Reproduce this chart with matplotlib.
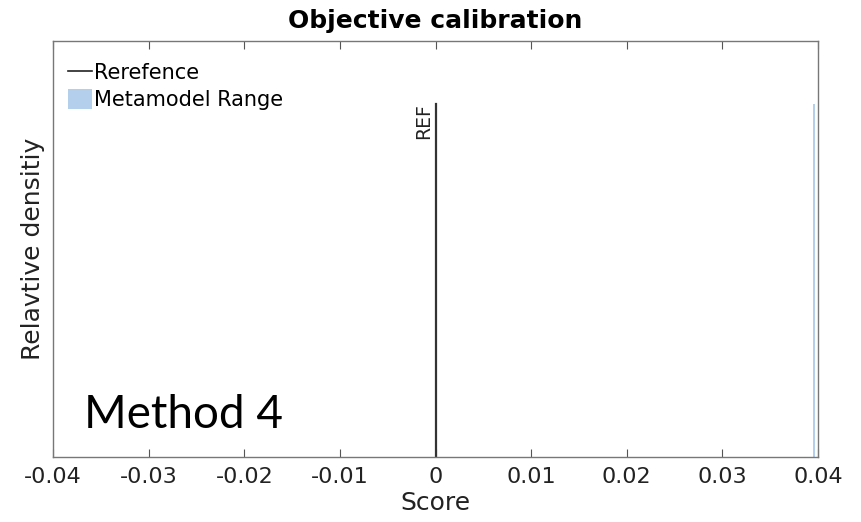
import matplotlib.pyplot as plt
from matplotlib.patches import Patch
from matplotlib.lines import Line2D

# values
ref_score = 0.0
meta_range = [0.03945, 0.03965]
density_top = 1.0
xticks = [-0.04, -0.03, -0.02, -0.01, 0, 0.01, 0.02, 0.03, 0.04]
xtick_labels = ['-0.04', '-0.03', '-0.02', '-0.01', '0', '0.01', '0.02', '0.03', '0.04']

fig = plt.figure(figsize=(8.62, 5.22), dpi=100)
ax = fig.add_axes([0.0615, 0.1245, 0.8875, 0.797])

blue = '#b4cfec'
ax.fill_between(meta_range, 0, density_top, color=blue, lw=0)
ax.plot([ref_score, ref_score], [0, density_top], color='#333333', lw=1.6)
ax.text(ref_score - 0.0003, density_top, 'REF', rotation=90, ha='right', va='top',
        fontsize=13.5, color='#222222')

ax.set_xlim(-0.04, 0.04)
ax.set_ylim(0, 1.177)
ax.set_xticks(xticks)
ax.set_xticklabels(xtick_labels, fontsize=16, color='#222222')
ax.set_yticks([])
ax.tick_params(axis='x', direction='in', length=6, top=True, color='#555555', pad=7)
for s in ax.spines.values():
    s.set_color('#777777')
    s.set_linewidth(1)

ax.set_xlabel('Score', fontsize=18, color='#222222', labelpad=3)
ax.set_ylabel('Relavtive densitiy', fontsize=18, color='#222222', labelpad=6)
ax.set_title('Objective calibration', fontsize=18, fontweight='bold', pad=9)

handles = [Line2D([0], [0], color='#222222', lw=1.2),
           Patch(facecolor=blue, edgecolor='none')]
ax.legend(handles, ['Rerefence', 'Metamodel Range'], loc='upper left', frameon=False,
          fontsize=15, handlelength=1.15, handleheight=1.1, handletextpad=0.1,
          borderaxespad=0.3, labelspacing=0.28, bbox_to_anchor=(0.0, 0.984))

ax.text(0.04, 0.05, 'Method 4', transform=ax.transAxes, fontsize=33,
        family='Lato', ha='left', va='bottom')

fig.savefig('out.png', dpi=100)
